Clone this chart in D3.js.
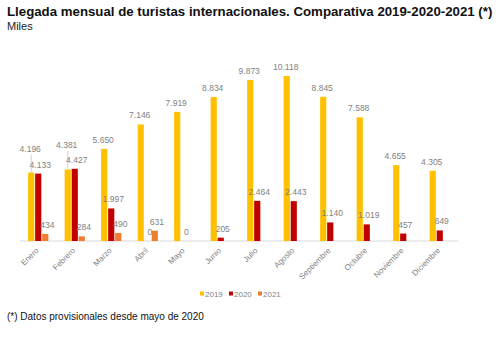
<!DOCTYPE html>
<html>
<head>
<meta charset="utf-8">
<script src="https://cdn.jsdelivr.net/npm/d3@7"></script>
<style>
  body { margin: 0; background: #fff; }
  #chart { width: 500px; height: 341px; }
  text { font-family: "Liberation Sans", Arial, sans-serif; }
</style>
</head>
<body>
<div id="chart"></div>
<script>
// --- datos ---
const meses = ["Enero", "Febrero", "Marzo", "Abril", "Mayo", "Junio", "Julio", "Agosto", "Septiembre", "Octubre", "Noviembre", "Diciembre"];
const anios = ["2019", "2020", "2021"];
const llegadas2019 = [4196, 4381, 5650, 7146, 7919, 8834, 9873, 10118, 8845, 7588, 4655, 4305];
const llegadas2020 = [4133, 4427, 1997, 0, 0, 205, 2464, 2443, 1140, 1019, 457, 649];
const llegadas2021 = [434, 284, 490, 631, null, null, null, null, null, null, null, null];
const colores = ["#FFC000", "#C00000", "#ED7D31"];

const series = [llegadas2019, llegadas2020, llegadas2021];

const width = 500, height = 341;
const svg = d3.select("#chart").append("svg")
    .attr("width", width)
    .attr("height", height)
    .attr("viewBox", `0 0 ${width} ${height}`);

// --- titulos ---
svg.append("text").attr("x", 7).attr("y", 16)
    .attr("font-size", 13.25).attr("font-weight", "bold").attr("fill", "#111")
    .text("Llegada mensual de turistas internacionales. Comparativa 2019-2020-2021 (*)");
svg.append("text").attr("x", 7).attr("y", 30)
    .attr("font-size", 11).attr("fill", "#222")
    .text("Miles");

// --- escalas ---
const x0 = d3.scaleBand().domain(meses).range([20, 458]).paddingInner(0.4).paddingOuter(0.2);
const x1 = d3.scaleBand().domain(anios).range([0, x0.bandwidth()]).padding(0.12);
const y = d3.scaleLinear().domain([0, 10118]).range([241, 76]);

const es = d3.formatLocale({ decimal: ",", thousands: ".", grouping: [3], currency: ["", "€"] });
const fmt = es.format(",d");

// linea base
svg.append("line")
    .attr("x1", 20).attr("x2", 458)
    .attr("y1", y(0)).attr("y2", y(0))
    .attr("stroke", "#d9d9d9").attr("stroke-width", 1);

// datos planos
const puntos = [];
meses.forEach((m, i) => {
    anios.forEach((a, j) => {
        if (series[j][i] !== null) puntos.push({ mes: m, anio: a, idx: j, i: i, v: series[j][i] });
    });
});

const g = svg.append("g");

g.selectAll("rect.barra")
    .data(puntos)
    .enter().append("rect")
    .attr("class", "barra")
    .attr("x", d => x0(d.mes) + x1(d.anio))
    .attr("width", x1.bandwidth())
    .attr("y", d => y(d.v))
    .attr("height", d => y(0) - y(d.v))
    .attr("fill", d => colores[d.idx]);

// etiquetas de valor; si la de 2019 choca con la de 2020 se sube con linea guia
puntos.forEach(d => {
    const cx = x0(d.mes) + x1(d.anio) + x1.bandwidth() / 2;
    let ly = y(d.v) - 6;
    if (d.idx === 0) {
        const otro = series[1][d.i];
        if (otro !== null && Math.abs(y(otro) - y(d.v)) < 10) {
            const ly2 = Math.min(y(otro), y(d.v)) - 6;
            ly = ly2 - 15;
            g.append("line")
                .attr("x1", cx).attr("x2", cx)
                .attr("y1", ly + 3).attr("y2", y(d.v))
                .attr("stroke", "#bfbfbf").attr("stroke-width", 0.7);
        }
    }
    g.append("text")
        .attr("x", d.idx === 0 ? cx - 1 : cx + 2)
        .attr("y", ly)
        .attr("text-anchor", "middle")
        .attr("font-size", 8.5)
        .attr("fill", "#7f7f7f")
        .text(fmt(d.v));
});

// eje x
const ejeX = svg.append("g")
    .attr("transform", `translate(0,${y(0)})`)
    .call(d3.axisBottom(x0).tickSize(0).tickPadding(0));
ejeX.select(".domain").remove();
ejeX.selectAll("text")
    .attr("font-size", 8)
    .attr("fill", "#7f7f7f")
    .attr("font-family", "Liberation Sans, Arial, sans-serif")
    .attr("text-anchor", "end")
    .attr("dy", 0)
    .attr("transform", "translate(1,10) rotate(-45)");

// leyenda
const leyenda = svg.append("g").attr("transform", "translate(200,294)");
anios.forEach((a, j) => {
    const lx = j * 29;
    leyenda.append("rect").attr("x", lx).attr("y", -2.5).attr("width", 4).attr("height", 4).attr("fill", colores[j]);
    leyenda.append("text").attr("x", lx + 5).attr("y", 3)
        .attr("font-size", 8).attr("fill", "#7f7f7f").text(a);
});

// nota
svg.append("text").attr("x", 7).attr("y", 320)
    .attr("font-size", 10).attr("fill", "#111")
    .text("(*) Datos provisionales desde mayo de 2020");
</script>
</body>
</html>
